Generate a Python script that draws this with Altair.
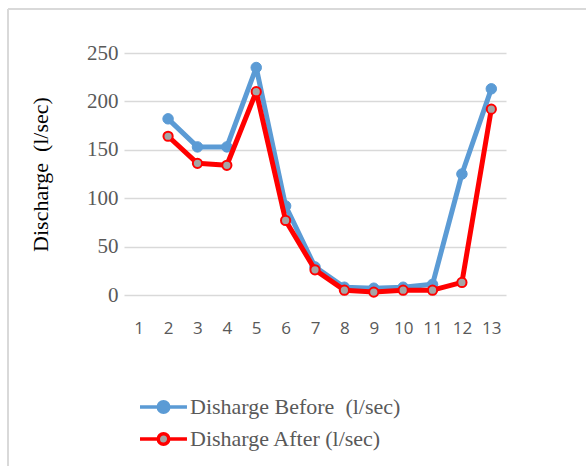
import altair as alt
import pandas as pd

categories = [str(i) for i in range(1, 14)]
x_before = ["2", "3", "4", "5", "6", "7", "8", "9", "10", "11", "12", "13"]
before = [182, 153, 153, 235, 92, 29, 8, 7, 8, 11, 125, 213]
after = [164, 136, 134, 210, 77, 26, 5, 3, 5, 5, 13, 192]
series = ["Disharge Before \u00a0(l/sec)", "Disharge After (l/sec)"]

rows = []
for x, b in zip(x_before, before):
    rows.append({"x": x, "v": b, "series": series[0]})
for x, a in zip(x_before, after):
    rows.append({"x": x, "v": a, "series": series[1]})
df = pd.DataFrame(rows)

BLUE = "#5B9BD5"
RED = "#FF0000"
GREY = "#A5A5A5"

# legend symbol: line with a circle in the middle (units of half the nominal size)
c, r = 2.36, 0.75
sym = (f"M-1,0L{c - r},0M{c + r},0L5.71,0"
       f"M{c + r},0A{r},{r} 0 1,1 {c - r},0A{r},{r} 0 1,1 {c + r},0Z")

xenc = alt.X("x:O", sort=categories, scale=alt.Scale(domain=categories, type="point", padding=0.5),
             axis=alt.Axis(title=None, labelAngle=0, domain=False, ticks=False, grid=False,
                           labelFont="Open Sans", labelFontSize=17, labelColor="#595959",
                           labelPadding=25))
yenc = alt.Y("v:Q", scale=alt.Scale(domain=[0, 250], nice=False),
             axis=alt.Axis(title="Discharge \u00a0(l/sec)", values=[0, 50, 100, 150, 200, 250],
                           domain=False, ticks=False, gridColor="#D9D9D9", gridWidth=1.5,
                           labelFont="Liberation Serif", labelFontSize=21, labelColor="#595959",
                           labelPadding=6, titleFont="Liberation Serif", titleFontSize=22,
                           titleFontWeight="normal", titleColor="#000000", titlePadding=34))

stroke_scale = alt.Scale(domain=series, range=[BLUE, RED])
fill_scale = alt.Scale(domain=series, range=[BLUE, GREY])
leg = alt.Legend(title=None, orient="none", legendX=12, legendY=343, symbolType=sym,
                 symbolSize=196, symbolStrokeWidth=3.5, labelFont="Liberation Serif",
                 labelFontSize=22, labelColor="#595959", labelOffset=32, rowPadding=6,
                 labelLimit=400)

base = alt.Chart(df)
layers = []
for i, s in enumerate(series):
    sub = base.transform_filter(alt.datum.series == s)
    line = sub.mark_line(strokeWidth=5, strokeJoin="round", strokeCap="round").encode(
        x=xenc, y=yenc,
        stroke=alt.Stroke("series:N", scale=stroke_scale, legend=leg))
    pts = sub.mark_point(filled=False, size=110 if i == 0 else 85, strokeWidth=2 if i == 1 else 1, opacity=1).encode(
        x=xenc, y=yenc,
        stroke=alt.Stroke("series:N", scale=stroke_scale, legend=leg),
        fill=alt.Fill("series:N", scale=fill_scale, legend=leg))
    layers += [line, pts]

frame_df = pd.DataFrame({"a": [0]})
frame_top = alt.Chart(frame_df).mark_rule(color="#D9D9D9", strokeWidth=2).encode(
    x=alt.value(-116), x2=alt.value(470), y=alt.value(-44))
frame_left = alt.Chart(frame_df).mark_rule(color="#D9D9D9", strokeWidth=2).encode(
    x=alt.value(-116), y=alt.value(-44), y2=alt.value(420))

chart = alt.layer(frame_top, frame_left, *layers).properties(
    width=382, height=242,
    autosize=alt.AutoSizeParams(type="none"),
    padding={"left": 124, "top": 53, "right": 80, "bottom": 171},
    background="white",
).configure_view(stroke=None)

chart.save("out.html", embed_options={"renderer": "svg", "actions": False})
